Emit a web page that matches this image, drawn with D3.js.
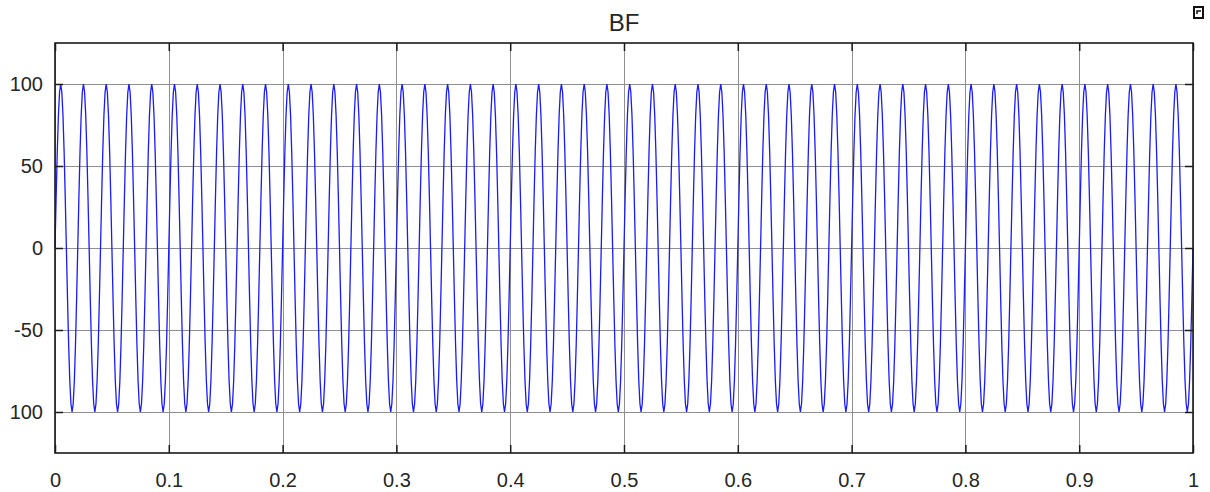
<!DOCTYPE html>
<html>
<head>
<meta charset="utf-8">
<title>BF</title>
<script src="https://cdn.jsdelivr.net/npm/d3@7"></script>
<style>
  body { margin: 0; background: #fff; }
  text { font-family: "Liberation Sans", Arial, sans-serif; fill: #262626; }
</style>
</head>
<body>
<script>
// ticks
var xTicks = [0, 0.1, 0.2, 0.3, 0.4, 0.5, 0.6, 0.7, 0.8, 0.9, 1];
var xTickLabels = ["0", "0.1", "0.2", "0.3", "0.4", "0.5", "0.6", "0.7", "0.8", "0.9", "1"];
var yTicks = [100, 50, 0, -50, -100];
var yTickLabels = ["100", "50", "0", "-50", "100"];

var cycleMs = [0, 1, 2, 3, 4, 5, 6, 7, 8, 9, 10, 11, 12, 13, 14, 15, 16, 17, 18, 19];
var cycleValues = [0, 31, 59, 81, 95, 100, 95, 81, 59, 31, 0, -31, -59, -81, -95, -100, -95, -81, -59, -31];
var periodMs = 20;
var cycleCount = 50;

var width = 1210, height = 492;
var plotLeft = 55, plotRight = 1193, plotTop = 43, plotBottom = 453;

var data = [];
for (var c = 0; c < cycleCount; c++) {
  cycleMs.forEach(function(ms, i) {
    data.push([(c * periodMs + ms) / 1000, cycleValues[i]]);
  });
}
data.push([1, 0]);

var x = d3.scaleLinear().domain([0, 1]).range([plotLeft, plotRight]);
var y = d3.scaleLinear().domain([-125, 125]).range([plotBottom, plotTop]);

var svg = d3.select("body").append("svg")
  .attr("width", width)
  .attr("height", height);

// grid
svg.append("g").selectAll("line").data(xTicks).enter().append("line")
  .attr("x1", function(d) { return Math.round(x(d)) + 0.5; })
  .attr("x2", function(d) { return Math.round(x(d)) + 0.5; })
  .attr("y1", plotTop).attr("y2", plotBottom)
  .attr("stroke", "#8f8f8f").attr("stroke-width", 1);
svg.append("g").selectAll("line").data(yTicks).enter().append("line")
  .attr("y1", function(d) { return Math.round(y(d)) + 0.5; })
  .attr("y2", function(d) { return Math.round(y(d)) + 0.5; })
  .attr("x1", plotLeft).attr("x2", plotRight)
  .attr("stroke", "#8f8f8f").attr("stroke-width", 1);

// signal
var line = d3.line()
  .x(function(d) { return x(d[0]); })
  .y(function(d) { return y(d[1]); });

svg.append("path")
  .datum(data)
  .attr("d", line)
  .attr("fill", "none")
  .attr("stroke", "#1a1aff")
  .attr("stroke-width", 1.3);

// axes with inward ticks on all four sides
var tickLen = 8;
svg.append("g")
  .attr("transform", "translate(0," + plotBottom + ")")
  .call(d3.axisBottom(x).tickValues(xTicks).tickSizeInner(-tickLen).tickSizeOuter(0)
    .tickPadding(20).tickFormat(function(d, i) { return xTickLabels[i]; }))
  .call(styleAxis);
svg.append("g")
  .attr("transform", "translate(0," + plotTop + ")")
  .call(d3.axisTop(x).tickValues(xTicks).tickSizeInner(-tickLen).tickSizeOuter(0).tickFormat(""))
  .call(styleAxis);
svg.append("g")
  .attr("transform", "translate(" + plotLeft + ",0)")
  .call(d3.axisLeft(y).tickValues(yTicks).tickSizeInner(-tickLen).tickSizeOuter(0)
    .tickPadding(12).tickFormat(function(d, i) { return yTickLabels[i]; }))
  .call(styleAxis);
svg.append("g")
  .attr("transform", "translate(" + plotRight + ",0)")
  .call(d3.axisRight(y).tickValues(yTicks).tickSizeInner(-tickLen).tickSizeOuter(0).tickFormat(""))
  .call(styleAxis);

function styleAxis(g) {
  g.select(".domain").remove();
  g.selectAll(".tick line").attr("stroke", "#1a1a1a").attr("stroke-width", 1.5);
  g.selectAll(".tick text").attr("font-size", 20).attr("fill", "#2b2b2b")
    .attr("font-family", "'Liberation Sans', Arial, sans-serif");
}

// frame
svg.append("rect")
  .attr("x", plotLeft).attr("y", plotTop)
  .attr("width", plotRight - plotLeft).attr("height", plotBottom - plotTop)
  .attr("fill", "none").attr("stroke", "#1a1a1a").attr("stroke-width", 1.6);

// title
svg.append("text")
  .attr("x", (plotLeft + plotRight) / 2).attr("y", 31)
  .attr("text-anchor", "middle")
  .attr("font-size", 24)
  .text("BF");

// undock icon
svg.append("rect")
  .attr("x", 1194).attr("y", 7).attr("width", 9).attr("height", 11)
  .attr("fill", "none").attr("stroke", "#111").attr("stroke-width", 2);
svg.append("path")
  .attr("d", "M1197,14 L1197,11 L1201,11")
  .attr("fill", "none").attr("stroke", "#111").attr("stroke-width", 1.5);
</script>
</body>
</html>
